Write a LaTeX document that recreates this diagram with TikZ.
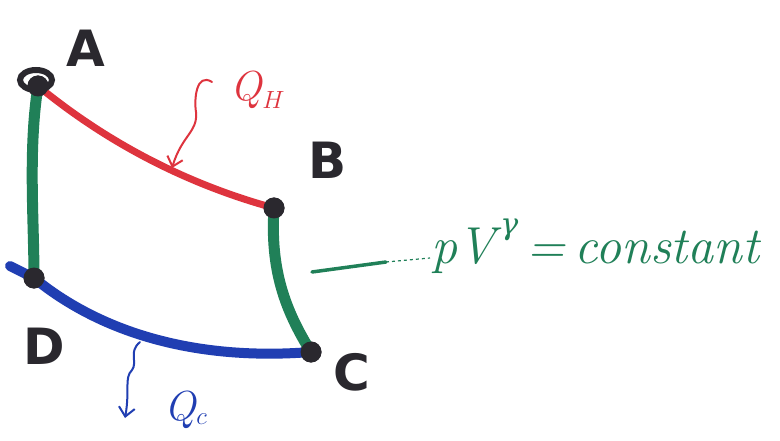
\documentclass[tikz,border=0pt]{standalone}
\usepackage{fontspec}
\usetikzlibrary{arrows.meta}
\newfontfamily\lblfont{DejaVu Sans}
\newfontfamily\gfont{DejaVu Serif}
\definecolor{mred}{RGB}{222,52,62}
\definecolor{mgreen}{RGB}{32,128,88}
\definecolor{mblue}{RGB}{32,62,178}
\definecolor{mblack}{RGB}{42,40,46}
\tikzset{
  dot/.style={circle,fill=mblack,inner sep=0pt,minimum size=21pt},
  redline/.style={mred,line width=7pt,line cap=round},
  greenline/.style={mgreen,line width=11pt},
  blueline/.style={mblue,line width=10pt,line cap=round},
  ptlabel/.style={text=mblack,font=\lblfont\bfseries\fontsize{50}{50}\selectfont},
  squig/.style={line width=2pt,line cap=round,-{Straight Barb[length=9pt,width=16pt,line width=2pt]}},
  qlabel/.style={font=\fontsize{42}{42}\selectfont\itshape}
}
\begin{document}
\begin{tikzpicture}[x=1pt,y=-1pt]
\useasboundingbox[fill=white] (0,0) rectangle (780,441);
% vertices
\node[dot] (A) at (38,86) {};
\node[dot] (B) at (274,208) {};
\node[dot] (C) at (311,352) {};
\node[dot] (D) at (34,278) {};
\coordinate (Dl) at (10,266);
% adiabats (green)
\draw[greenline] (A.center) .. controls (28,150) and (34,220) .. (D.center);
\draw[greenline] (B.center) .. controls (270,270) and (285,310) .. (C.center);
% isotherms
\draw[redline] (A.center) .. controls (110,145) and (190,185) .. (B.center);
\draw[blueline] (Dl) -- (D.center) .. controls (110,340) and (210,360) .. (C.center);
% redraw dots on top
\node[dot] at (A) {};
\node[dot] at (B) {};
\node[dot] at (C) {};
\node[dot] at (D) {};
\draw[mblack,line width=6pt] (36,80) ellipse (16pt and 10pt);
% labels
\node[ptlabel] (lA) at (86,48) {A};
\node[ptlabel] (lB) at (328,160) {B};
\node[ptlabel] (lC) at (352,372) {C};
\node[ptlabel] (lD) at (44,346) {D};
% heat arrows
\node[qlabel,text=mred] (QH) at (258,90) {Q$_{H}$};
\coordinate (qhs) at (212,82);
\coordinate (qhe) at (172,168);
\draw[mred,squig] (qhs) .. controls (196,72) and (194,100) .. (196,112)
   .. controls (198,132) and (182,135) .. (qhe);
\node[qlabel,text=mblue] (QC) at (186,410) {Q$_c$};
\coordinate (qcs) at (140,342);
\coordinate (qce) at (125,418);
\draw[mblue,squig] (qcs) .. controls (128,352) and (138,362) .. (132,370)
   .. controls (124,378) and (130,390) .. (qce);
% adiabat label
\coordinate (g1) at (312,272);
\coordinate (g2) at (386,262);
\coordinate (g3) at (430,258);
\draw[mgreen,line width=3.5pt,line cap=round] (g1) -- (g2);
\draw[mgreen,line width=1.2pt,dashed] (g2) -- (g3);
\node[text=mgreen,anchor=west,font=\fontsize{52}{52}\selectfont\itshape] (eq) at (428,246) {pV\hspace{5pt}\raisebox{0.55em}{\gfont\itshape\fontsize{30}{30}\selectfont γ}\,=\,constant};
\end{tikzpicture}
\end{document}
